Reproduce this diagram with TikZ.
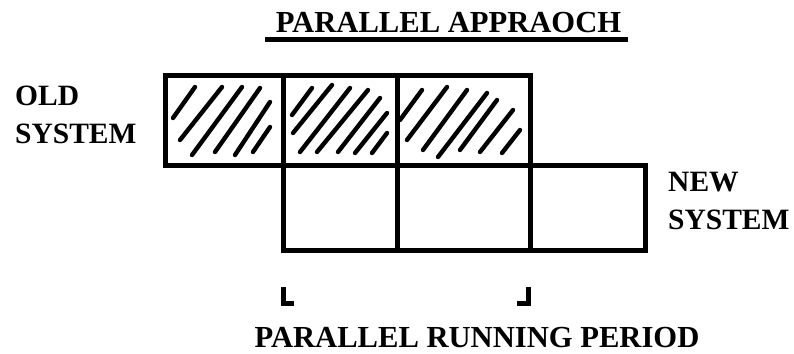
\documentclass[tikz,border=0pt]{standalone}
\usepackage{fontspec}
\setmainfont{Liberation Serif}
\begin{document}
\begin{tikzpicture}[x=1pt,y=-1pt,
  cell/.style={draw=black, line width=5pt, inner sep=0pt, fill=none},
  hatch/.style={line width=4.4pt, line cap=round},
  bracket/.style={line width=5pt},
  bigtext/.style={font=\fontsize{30.6}{36}\selectfont\bfseries, inner sep=0pt},
  sidetext/.style={font=\fontsize{29.5}{38}\selectfont\bfseries, inner sep=0pt, align=left}]
  \useasboundingbox (0,0) rectangle (794,353);

  % title with thick underline
  \node[bigtext, anchor=base] (title) at (448.5,33) {PARALLEL APPRAOCH};
  \draw[line width=4.5pt] (265,39.5) -- (628,39.5);

  % old system: three hatched cells
  \node[cell, minimum width=118pt, minimum height=90pt] (o1) at (224,120) {};
  \node[cell, minimum width=114pt, minimum height=90pt] (o2) at (340,120) {};
  \node[cell, minimum width=133pt, minimum height=90pt] (o3) at (463.5,120) {};

  % new system: three empty cells
  \node[cell, minimum width=114pt, minimum height=85pt] (n1) at (340,207.5) {};
  \node[cell, minimum width=133pt, minimum height=85pt] (n2) at (463.5,207.5) {};
  \node[cell, minimum width=115pt, minimum height=85pt] (n3) at (587.5,207.5) {};

  % hatching of the old system cells
  \foreach \a/\b/\c/\d in {173/118/195/87, 180/140/222/87, 192/155/242/87,
                           215/152/260/88, 235/155/270/102, 253/152/270/127}
    \draw[hatch] (\a,\b) -- (\c,\d);
  \foreach \a/\b/\c/\d in {292/115/312/88, 293/133/332/85, 300/152/350/88,
                           317/152/368/90, 338/152/380/98, 355/153/387/113,
                           372/153/387/133}
    \draw[hatch] (\a,\b) -- (\c,\d);
  \foreach \a/\b/\c/\d in {400/120/422/90, 407/140/447/87, 423/150/467/90,
                           438/157/487/93, 460/150/497/100, 480/152/513/110,
                           502/153/520/130}
    \draw[hatch] (\a,\b) -- (\c,\d);

  % side labels
  \node[sidetext, anchor=north west] (oldlbl) at (15,86) {OLD\\SYSTEM};
  \node[sidetext, anchor=north west] (newlbl) at (668,172) {NEW\\SYSTEM};

  % brackets marking the parallel running period
  \draw[bracket] (283,287) -- (283,303) -- (294,303);
  \draw[bracket] (528,287) -- (528,303) -- (517,303);

  \node[bigtext, anchor=base] (period) at (477,347) {PARALLEL RUNNING PERIOD};
\end{tikzpicture}
\end{document}
